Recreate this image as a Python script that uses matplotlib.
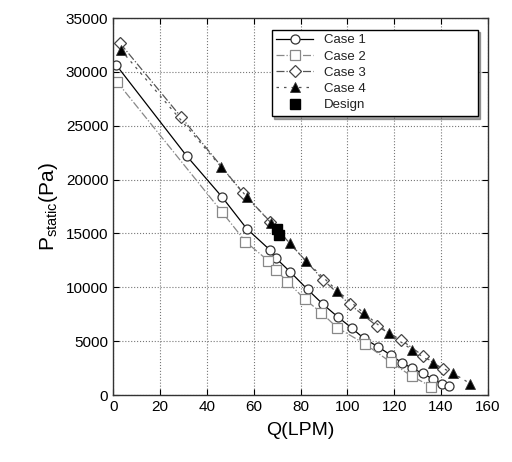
import matplotlib
matplotlib.use("Agg")
from matplotlib import pyplot as plt

# Datos
q_case1 = [1.3, 31.4, 46.4, 57.0, 67.0, 69.5, 75.5, 83.0, 89.6, 95.8, 101.8, 107.0,
           113.0, 118.5, 123.2, 127.7, 132.1, 136.4, 140.6, 143.5]
p_case1 = [30640, 22190, 18410, 15450, 13450, 12700, 11450, 9800, 8420, 7270, 6230, 5260,
           4490, 3710, 3000, 2480, 2010, 1490, 1020, 840]

q_case2 = [1.6, 46.4, 56.5, 66.3, 69.5, 74.4, 81.9, 88.8, 95.6, 107.5, 118.5,
           127.6, 135.9]
p_case2 = [29090, 17010, 14240, 12450, 11600, 10520, 8880, 7650, 6260, 4740, 3050,
           1730, 780]

q_case3 = [3.0, 28.9, 55.6, 67.0, 89.6, 101.0, 112.8, 123.0, 132.4, 140.8]
p_case3 = [32650, 25840, 18710, 16100, 10700, 8420, 6370, 5100, 3630, 2400]

q_case4 = [3.3, 46.0, 57.0, 67.3, 75.3, 82.2, 95.6, 107.2, 117.6, 127.6, 136.5, 145.2, 152.5]
p_case4 = [32030, 21200, 18410, 16000, 14100, 12450, 9700, 7580, 5720, 4200, 2940, 2010, 1050]

q_design = [69.8, 70.8]
p_design = [15400, 14900]

x_ticks = [0, 20, 40, 60, 80, 100, 120, 140, 160]
y_ticks = [0, 5000, 10000, 15000, 20000, 25000, 30000, 35000]

plt.rcParams['font.family'] = ['Liberation Sans', 'DejaVu Sans']

fig = plt.figure(figsize=(5.12, 4.62), dpi=100)
ax = fig.add_axes([0.221, 0.145, 0.732, 0.816])

ax.plot(q_case1, p_case1, '-', color='black', lw=0.9, marker='o', ms=6.5,
        mfc='white', mec='#333333', mew=0.9, label='Case 1')
ax.plot(q_case2, p_case2, '-.', color='#888888', lw=0.9, marker='s', ms=6.5,
        mfc='white', mec='#888888', mew=0.9, label='Case 2')
ax.plot(q_case3, p_case3, '-.', color='#555555', lw=0.9, marker='D', ms=6,
        mfc='white', mec='#444444', mew=0.9, label='Case 3')
ax.plot(q_case4, p_case4, '--', color='#555555', lw=0.9, dashes=(2, 4), marker='^', ms=7,
        mfc='black', mec='#333333', mew=0.6, label='Case 4')
ax.plot(q_design, p_design, 's', color='black', ms=6.5, label='Design')

# Ejes
ax.set_xlim(0, 160)
ax.set_ylim(0, 35000)
ax.set_xticks(x_ticks)
ax.set_yticks(y_ticks)
ax.tick_params(direction='in', top=True, right=True, labelsize=11, length=4)
ax.grid(True, linestyle=':', color='#777777', lw=0.8)
for s in ax.spines.values():
    s.set_color('#333333')
    s.set_linewidth(1.0)
ax.set_xlabel("Q(LPM)", fontsize=14, labelpad=6)
ax.set_ylabel(r"P$_{\mathregular{static}}$(Pa)", fontsize=15, labelpad=4)

leg = ax.legend(loc='upper left', fontsize=9.5, frameon=True, fancybox=False,
                shadow=True, borderpad=0.35, labelspacing=0.3, handlelength=2.8,
                handletextpad=0.8, bbox_to_anchor=(0.405, 0.987, 0.585, 0.0),
                mode='expand', framealpha=1)
leg.get_frame().set_edgecolor('black')
leg.get_frame().set_linewidth(1.0)
for t in leg.get_texts():
    t.set_color('#222222')

plt.savefig("out.png", dpi=100)
plt.close(fig)
